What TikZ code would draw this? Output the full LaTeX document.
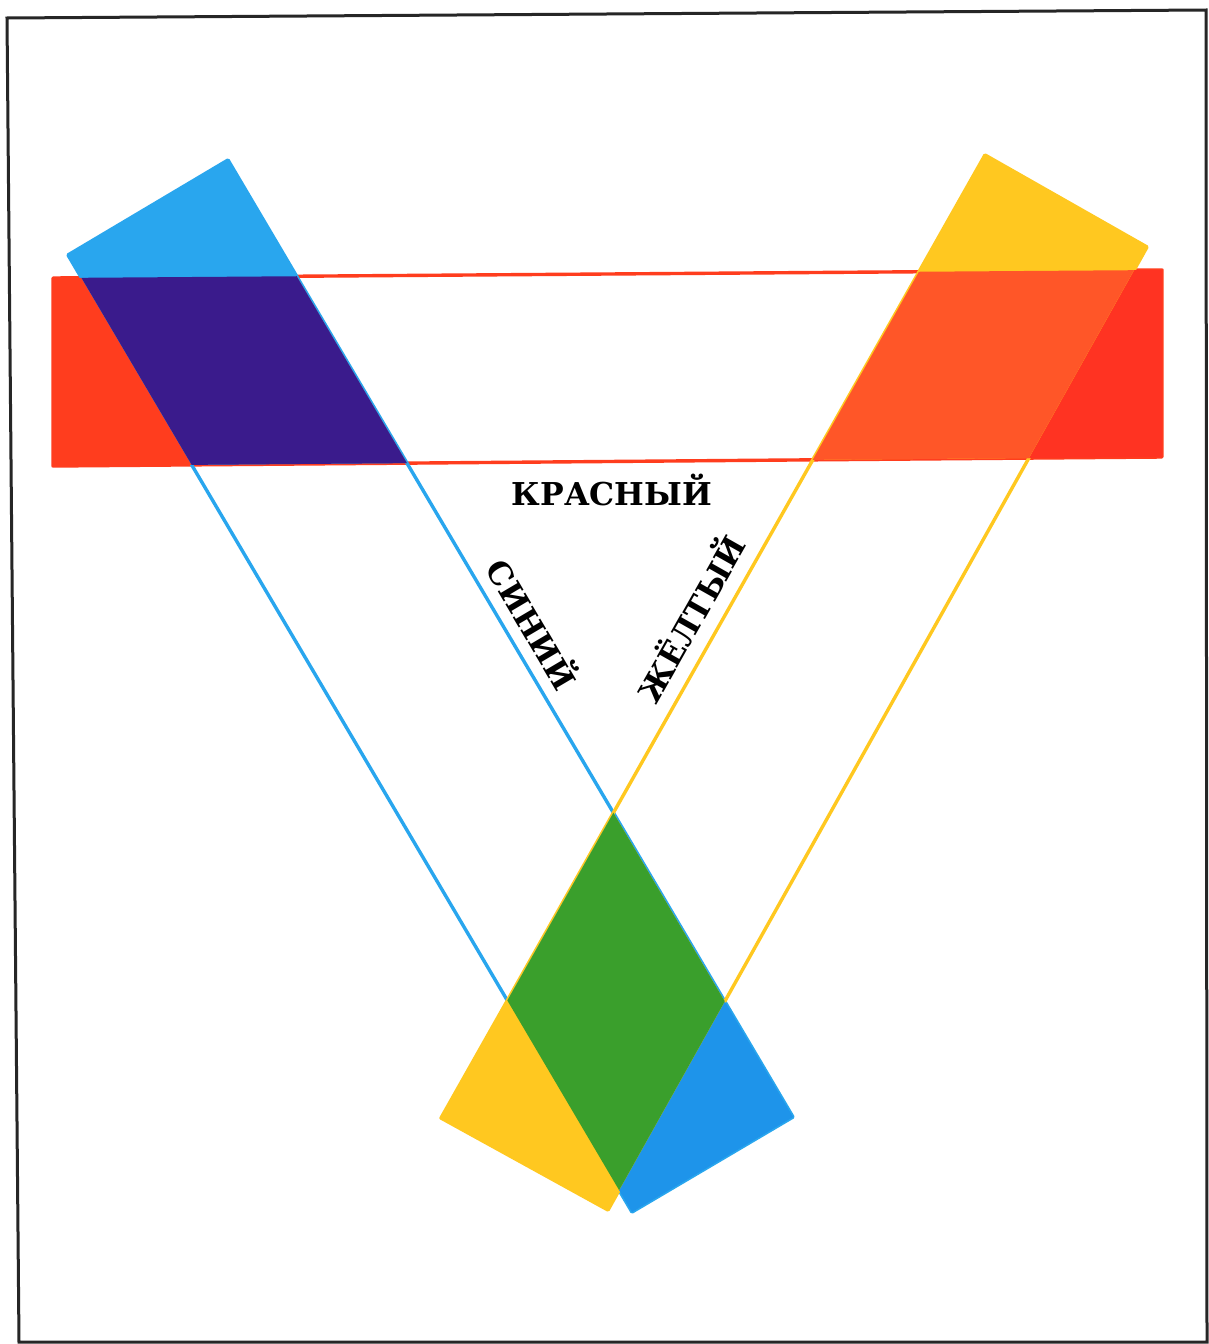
\documentclass[tikz,border=0pt]{standalone}
\usepackage{fontspec}
\setmainfont{DejaVu Serif}
\definecolor{cred}{HTML}{FF3D1E}
\definecolor{credr}{HTML}{FF3322}
\definecolor{cblue}{HTML}{29A6EE}
\definecolor{cblueb}{HTML}{1E94EA}
\definecolor{cyel}{HTML}{FFC820}
\definecolor{cpur}{HTML}{3A1B8C}
\definecolor{corg}{HTML}{FF5628}
\definecolor{cgreen}{HTML}{3A9F2C}
\begin{document}
\begin{tikzpicture}[x=1pt,y=-1pt,
  lbl/.style={font=\bfseries\fontsize{31.5}{31.5}\selectfont, inner sep=0pt, anchor=base},
  bandedge/.style={line width=3.4pt, line join=round},
  frame/.style={line width=3pt, draw=black!85, line join=miter}]
\useasboundingbox (0,0) rectangle (1208,1344);
\fill[white] (0,0) rectangle (1208,1344);
% frame
\draw[frame] (7,18) -- (1206,10) -- (1207,1342) -- (19,1342) -- cycle;
% band corners
\coordinate (R1) at (53,278);
\coordinate (R2) at (1162,270);
\coordinate (R3) at (1162,457);
\coordinate (R4) at (53,466);
\coordinate (B1) at (68,255);
\coordinate (B2) at (228,160);
\coordinate (B3) at (793,1117);
\coordinate (B4) at (632,1212);
\coordinate (Y1) at (985,155);
\coordinate (Y2) at (1147,247);
\coordinate (Y3) at (608,1210);
\coordinate (Y4) at (441,1118);
% outlines
\draw[bandedge, draw=cred] (R1) -- (R2) -- (R3) -- (R4) -- cycle;
\draw[bandedge, draw=cblue] (B1) -- (B2) -- (B3) -- (B4) -- cycle;
\draw[bandedge, draw=cyel] (Y1) -- (Y2) -- (Y3) -- (Y4) -- cycle;
% red ends
\begin{scope}
  \clip (R1) -- (R2) -- (R3) -- (R4) -- cycle;
  \fill[cred] (0,0) -- (133.5,0) -- (927,1344) -- (0,1344) -- cycle;
  \fill[credr] (1072.6,0) -- (1208,0) -- (1208,1344) -- (313.3,1344) -- cycle;
\end{scope}
% blue ends
\begin{scope}
  \clip (B1) -- (B2) -- (B3) -- (B4) -- cycle;
  \fill[cblue] (0,0) -- (1208,0) -- (1208,456.6) -- (0,466.4) -- cycle;
  \fill[cblueb] (1072.6,0) -- (1208,0) -- (1208,1344) -- (313.3,1344) -- cycle;
\end{scope}
% yellow ends
\begin{scope}
  \clip (Y1) -- (Y2) -- (Y3) -- (Y4) -- cycle;
  \fill[cyel] (0,0) -- (1208,0) -- (1208,456.6) -- (0,466.4) -- cycle;
  \fill[cyel] (0,0) -- (133.5,0) -- (927,1344) -- (0,1344) -- cycle;
\end{scope}
% overlaps
\begin{scope}
  \clip (R1) -- (R2) -- (R3) -- (R4) -- cycle;
  \fill[cpur] (B1) -- (B2) -- (B3) -- (B4) -- cycle;
  \fill[corg] (Y1) -- (Y2) -- (Y3) -- (Y4) -- cycle;
\end{scope}
\begin{scope}
  \clip (B1) -- (B2) -- (B3) -- (B4) -- cycle;
  \fill[cgreen] (Y1) -- (Y2) -- (Y3) -- (Y4) -- cycle;
\end{scope}
% labels
\node[lbl] (kr) at (612,505) {КРАСНЫЙ};
\node[lbl, rotate=-59.44] (sin) at (521,631) {СИНИЙ};
\node[lbl, rotate=60.5] (zh) at (702,625) {ЖЁЛТЫЙ};
\end{tikzpicture}
\end{document}
